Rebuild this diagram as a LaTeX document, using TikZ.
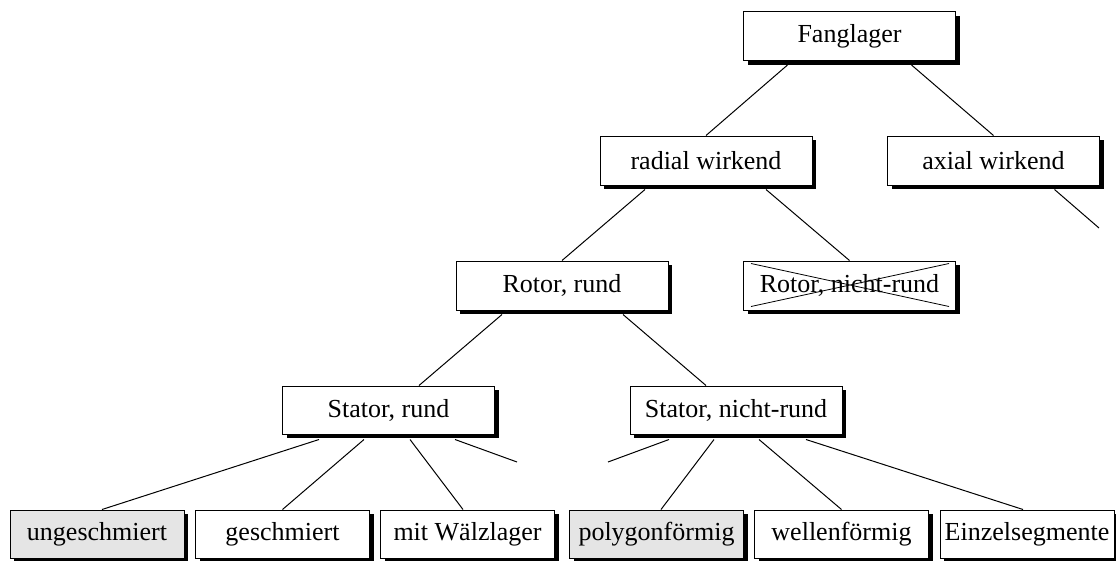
\documentclass[tikz,border=0pt]{standalone}
\usepackage{fontspec}
\setmainfont{Liberation Serif}
\usetikzlibrary{shadows}

\begin{document}
\begin{tikzpicture}[x=1pt,y=-1pt,line width=1pt,
  box/.style={draw,fill=white,minimum width=212pt,minimum height=49pt,inner sep=0pt,
    font=\fontsize{26}{30}\selectfont,
    drop shadow={shadow xshift=4pt,shadow yshift=-4pt,fill=black,opacity=1}},
  leaf/.style={box,minimum width=174pt,minimum height=48pt},
  grey/.style={fill=black!10}]
\useasboundingbox (0,0) rectangle (1116,560);
\node[box] (fang) at (849.5,36) {Fanglager};
\node[box] (rad) at (706,160.5) {radial wirkend};
\node[box] (ax) at (993.5,160.5) {axial wirkend};
\node[box] (rr) at (562,285.5) {Rotor, rund};
\node[box] (rn) at (849.5,285.5) {Rotor, nicht-rund};
\node[box,minimum height=48pt] (sr) at (388.5,410) {Stator, rund};
\node[box,minimum height=48pt] (sn) at (736,410) {Stator, nicht-rund};
\node[leaf,grey] (ung) at (97,534) {ungeschmiert};
\node[leaf] (ges) at (282.5,534) {geschmiert};
\node[leaf] (wal) at (467.5,534) {mit Wälzlager};
\node[leaf,grey] (pol) at (656.5,534) {polygonförmig};
\node[leaf] (wel) at (841.5,534) {wellenförmig};
\node[leaf] (ein) at (1027,534) {Einzelsegmente};
\coordinate (axfree) at (1099,228);
\coordinate (srfree) at (517,462);
\coordinate (snfree) at (608,462);
\draw ([xshift=-62pt,yshift=-4pt]fang.south) -- (rad.north);
\draw ([xshift=62pt,yshift=-4pt]fang.south) -- (ax.north);
\draw ([xshift=-61pt,yshift=-4pt]rad.south) -- (rr.north);
\draw ([xshift=60pt,yshift=-4pt]rad.south) -- (rn.north);
\draw ([xshift=61pt,yshift=-4pt]ax.south) -- (axfree);
\draw ([xshift=-60pt,yshift=-4pt]rr.south) -- ([xshift=30.5pt]sr.north);
\draw ([xshift=61pt,yshift=-4pt]rr.south) -- ([xshift=-30pt]sn.north);
\draw ([xshift=-69.5pt,yshift=-5pt]sr.south) -- ([xshift=5pt]ung.north);
\draw ([xshift=-24.5pt,yshift=-5pt]sr.south) -- (ges.north);
\draw ([xshift=21.5pt,yshift=-5pt]sr.south) -- ([xshift=-4.5pt]wal.north);
\draw ([xshift=66.5pt,yshift=-5pt]sr.south) -- (srfree);
\draw ([xshift=-67pt,yshift=-5pt]sn.south) -- (snfree);
\draw ([xshift=-22pt,yshift=-5pt]sn.south) -- ([xshift=4.5pt]pol.north);
\draw ([xshift=23pt,yshift=-5pt]sn.south) -- (wel.north);
\draw ([xshift=70pt,yshift=-5pt]sn.south) -- ([xshift=-4pt]ein.north);
\draw[line width=0.8pt] ([shift={(8,3)}]rn.north west) -- ([shift={(-7,-4)}]rn.south east)
  ([shift={(8,-4)}]rn.south west) -- ([shift={(-7,3)}]rn.north east);
\end{tikzpicture}
\end{document}
